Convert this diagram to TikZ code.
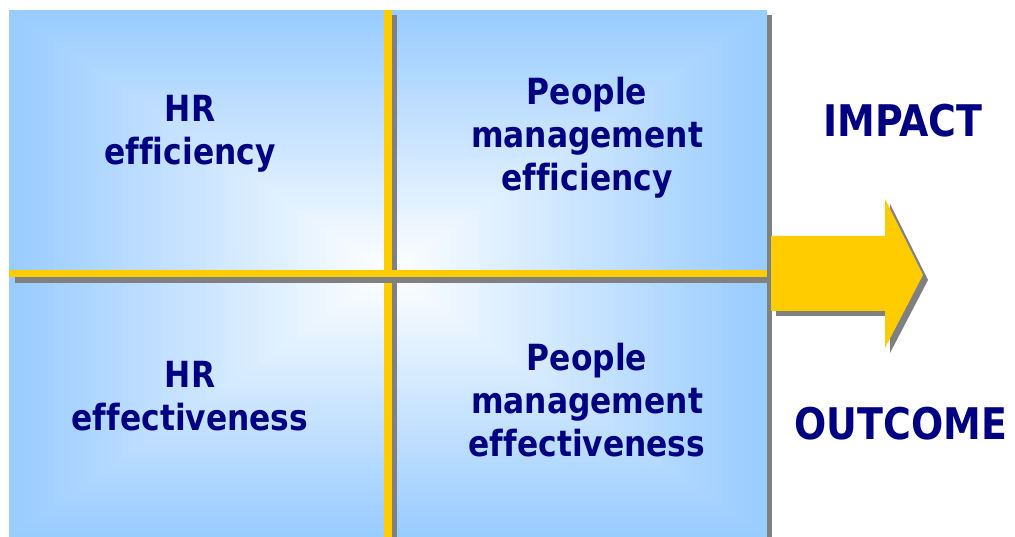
\documentclass[tikz,border=0pt]{standalone}
\usepackage{fontspec}
\setmainfont{DejaVu Sans}[FakeStretch=0.87,Ligatures=NoCommon]
\definecolor{quadblue}{RGB}{153,204,255}
\definecolor{bargold}{RGB}{255,204,0}
\definecolor{shadegray}{RGB}{128,128,128}
\definecolor{labelnavy}{RGB}{0,0,128}

\begin{document}
\begin{tikzpicture}[x=0.025cm,y=-0.025cm,
  quadlabel/.style={text=labelnavy,font=\fontsize{25.6}{30.6}\selectfont\bfseries,align=center,inner sep=0pt},
  sidelabel/.style={text=labelnavy,font=\fontsize{31}{36}\selectfont\bfseries,inner sep=0pt}]
  \useasboundingbox (0,0) rectangle (1015,537);

  % Kuadran dengan gradasi dari sudut tengah
  \foreach \cx/\cy/\ox/\oy in {388/273/9/10, 388/273/767/10, 388/273/9/537, 388/273/767/537} {
    \foreach \s in {50,49,...,1} {
      \pgfmathsetmacro{\px}{\cx+(\ox-\cx)/50*\s}
      \pgfmathsetmacro{\py}{\cy+(\oy-\cy)/50*\s}
      \pgfmathtruncatemacro{\pc}{2*\s}
      \fill[quadblue!\pc!white] (\cx,\cy) rectangle (\px,\py);
    }
  }

  % Garis pembagi dengan bayangan
  \fill[shadegray] (767,15) rectangle (772,537);
  \fill[shadegray] (392,15) rectangle (397,537);
  \fill[bargold] (384,10) rectangle (392,537);
  \fill[shadegray] (15,277) rectangle (772,283);
  \fill[bargold] (9,270) rectangle (767,277);

  % Panah ke kanan
  \foreach \d/\clr in {5/shadegray,0/bargold} {
    \fill[\clr, shift={(\d,\d)}] (771,236) -- (885,236) -- (885,199) -- (923,275)
      -- (885,348) -- (885,311) -- (771,311) -- cycle;
  }

  % Label
  \node[quadlabel] (hreff) at (190,134) {HR\\efficiency};
  \node[quadlabel] (pmeff) at (587,138) {People\\management\\efficiency};
  \node[quadlabel] (hreffect) at (190,396) {HR\\effectiveness};
  \node[quadlabel] (pmeffect) at (587,400) {People\\management\\effectiveness};
  \node[sidelabel] (impact) at (903,121) {IMPACT};
  \node[sidelabel] (outcome) at (901,424) {OUTCOME};
\end{tikzpicture}
\end{document}
